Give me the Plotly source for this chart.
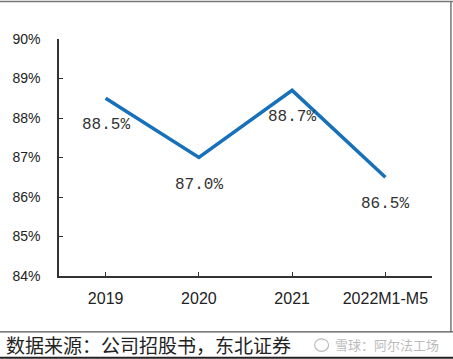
import plotly.graph_objects as go

categories = ["2019", "2020", "2021", "2022M1-M5"]
values = [88.5, 87.0, 88.7, 86.5]
labels = ["88.5%", "87.0%", "88.7%", "86.5%"]
y_ticks = [84, 85, 86, 87, 88, 89, 90]
y_ticktext = ["84%", "85%", "86%", "87%", "88%", "89%", "90%"]
caption = "数据来源：公司招股书，东北证券"
watermark = "雪球：阿尔法工场"

xs = list(range(len(categories)))

fig = go.Figure()
fig.add_trace(go.Scatter(
    x=xs, y=values, mode="lines",
    line=dict(color="#1670BA", width=3.5),
    hoverinfo="skip", showlegend=False,
))

for x, v, t in zip(xs, values, labels):
    fig.add_annotation(
        x=x, y=v, xref="x", yref="y", text=t, showarrow=False,
        yshift=-27, font=dict(family="Liberation Mono", size=16, color="#333333"),
    )

fig.update_layout(
    width=453, height=359,
    margin=dict(l=57, r=21, t=39, b=83),
    paper_bgcolor="white", plot_bgcolor="white",
    xaxis=dict(
        range=[-0.5, len(categories) - 0.5],
        tickmode="array", tickvals=xs + [len(categories) - 0.5],
        ticktext=categories + [""],
        ticks="inside", ticklen=4, tickwidth=1.2, tickcolor="#333333",
        showline=True, linecolor="#333333", linewidth=1.5,
        showgrid=False, zeroline=False,
        tickfont=dict(family="Liberation Sans", size=16, color="#222222"),
        ticklabelstandoff=7,
    ),
    yaxis=dict(
        range=[84, 90],
        tickmode="array", tickvals=y_ticks, ticktext=y_ticktext,
        ticks="inside", ticklen=4, tickwidth=1.2, tickcolor="#333333",
        showline=True, linecolor="#333333", linewidth=1.5,
        showgrid=False, zeroline=False,
        tickfont=dict(family="Liberation Sans", size=14, color="#222222"),
        ticklabelstandoff=14,
    ),
)

# frame lines
line_gray = dict(color="#777777", width=1.5)
fig.add_shape(type="line", xref="paper", yref="paper", x0=-0.16, x1=1.06, y0=1.158, y1=1.158, line=line_gray)
fig.add_shape(type="line", xref="paper", yref="paper", x0=1.0507, x1=1.0507, y0=-0.236, y1=1.16, line=line_gray)
fig.add_shape(type="line", xref="paper", yref="paper", x0=-0.16, x1=1.06, y0=-0.236, y1=-0.236, line=dict(color="#555555", width=1.2))
fig.add_shape(type="line", xref="paper", yref="paper", x0=-0.16, x1=1.06, y0=-0.345, y1=-0.345, line=dict(color="#222222", width=2))

fig.add_annotation(
    x=-0.1467, y=-0.291, xref="paper", yref="paper", xanchor="left", yanchor="middle",
    text=caption, showarrow=False,
    font=dict(family="Noto Sans CJK SC", size=19, color="#222222"),
)
fig.add_annotation(
    x=1.024, y=-0.291, xref="paper", yref="paper", xanchor="right", yanchor="middle",
    text=watermark, showarrow=False,
    font=dict(family="Noto Sans CJK SC", size=13, color="#BBBBBB"),
)
fig.add_shape(type="circle", xref="paper", yref="paper",
              x0=0.6853, x1=0.7227, y0=-0.318, y1=-0.265,
              line=dict(color="#BBBBBB", width=1.2))

fig.write_html(
    "out.html",
    config={"displayModeBar": False},
    post_script="document.body.style.margin='0';document.body.style.overflow='hidden';",
)
